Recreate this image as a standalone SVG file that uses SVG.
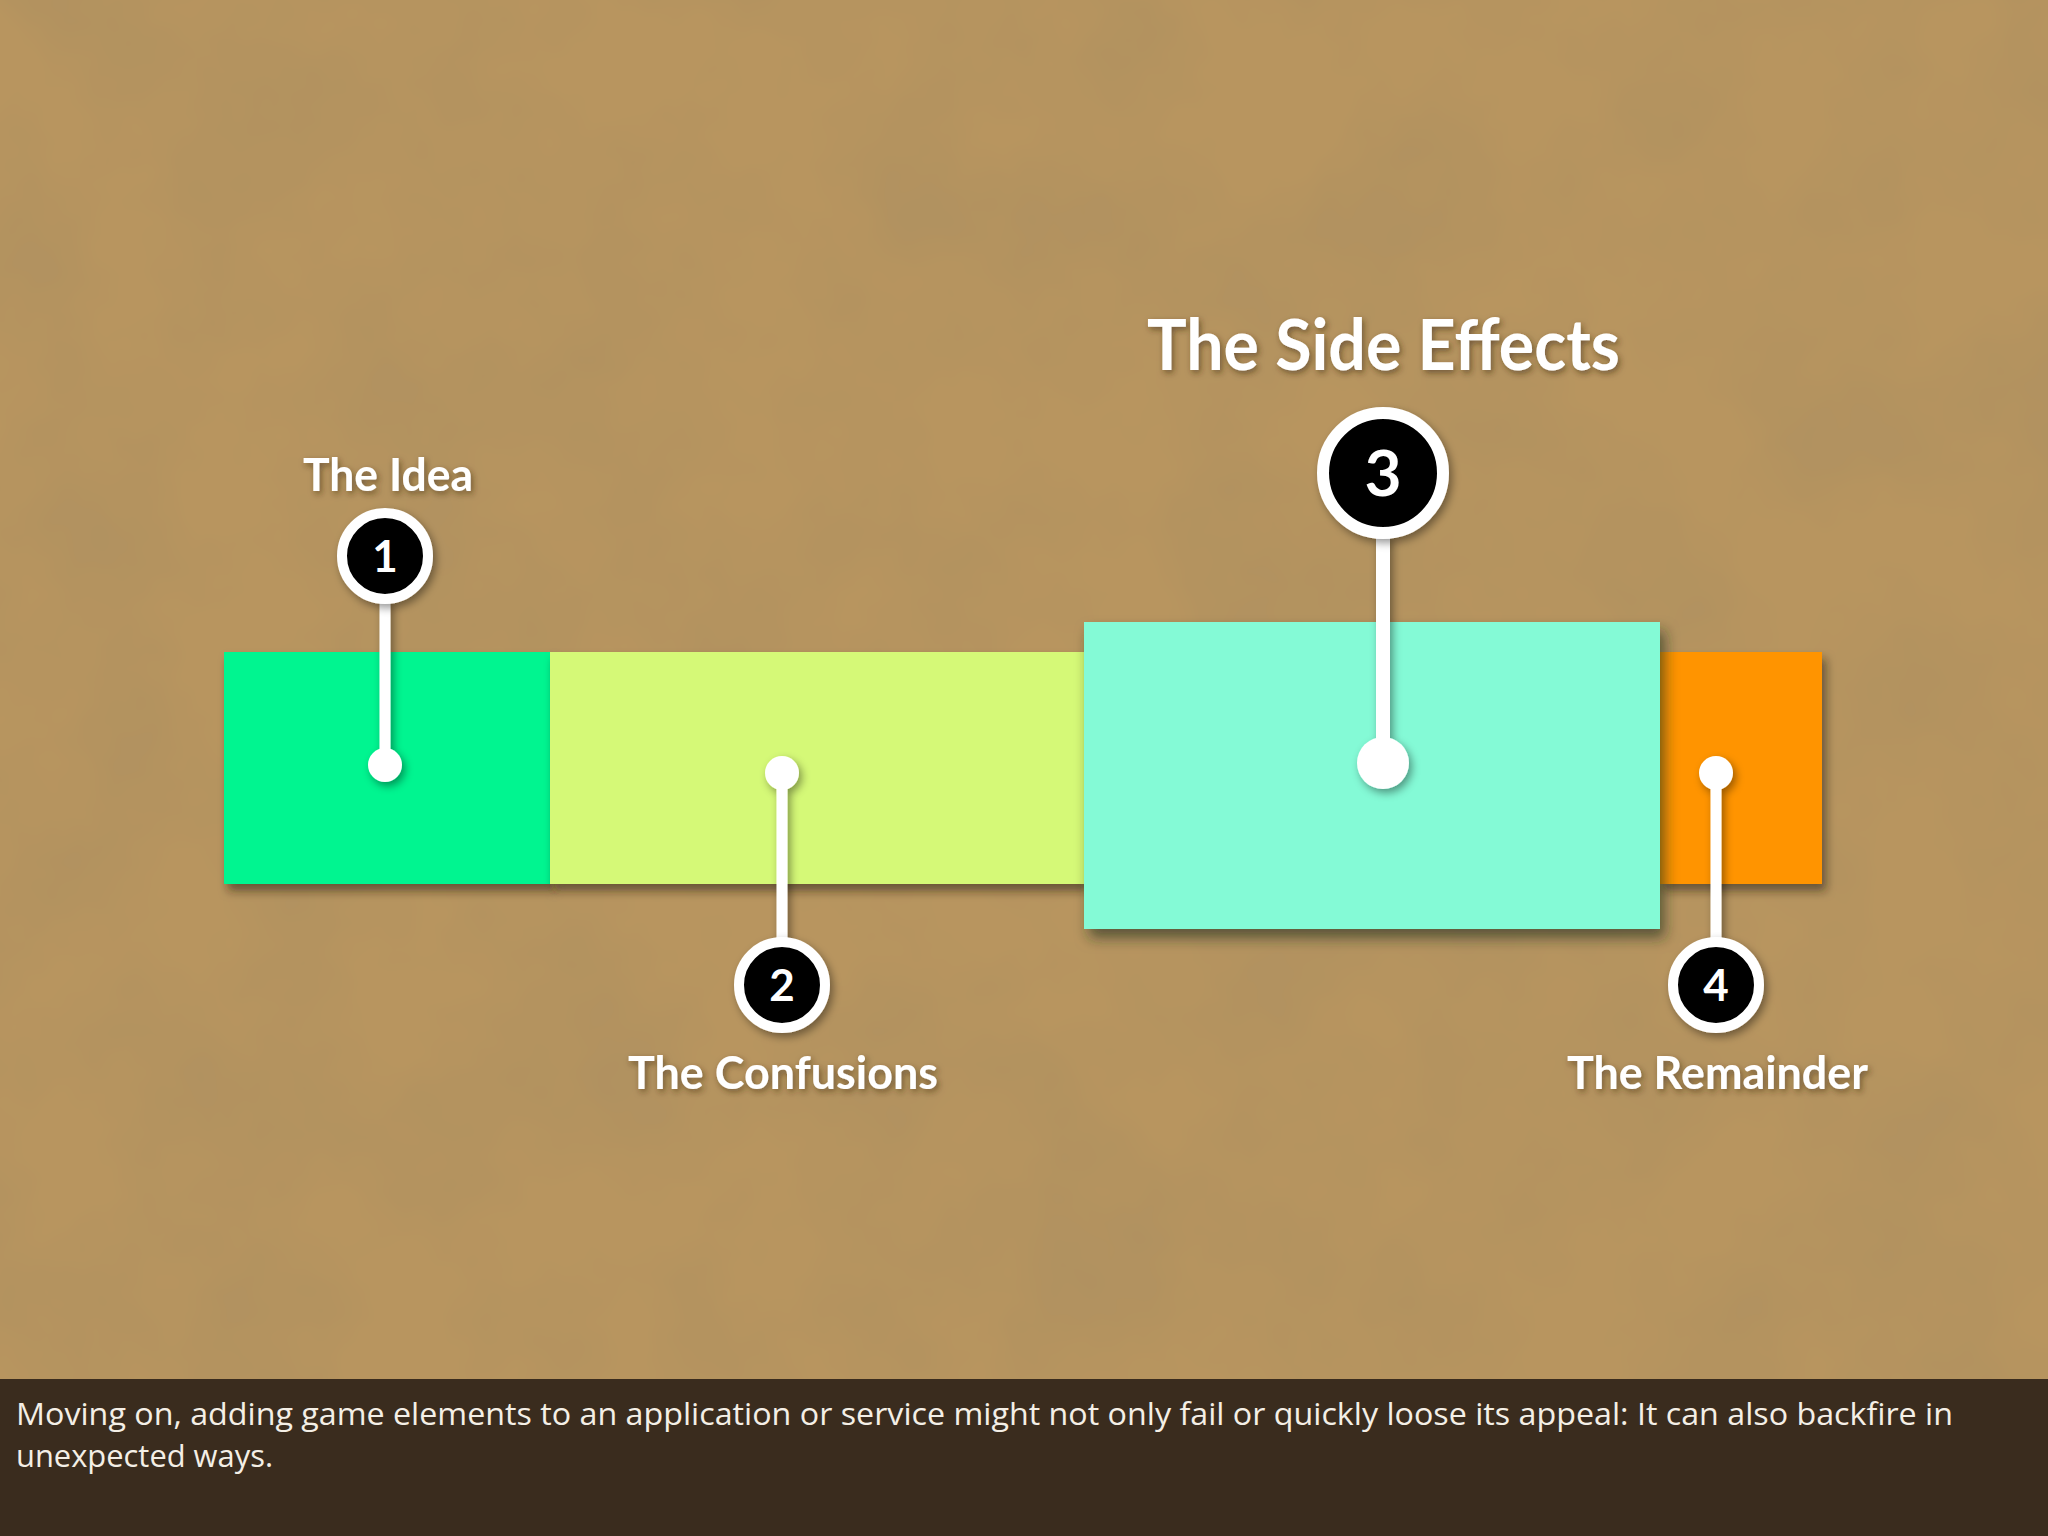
<svg xmlns="http://www.w3.org/2000/svg" width="2048" height="1536" viewBox="0 0 2048 1536">
  <defs>
    <filter id="paper" x="0" y="0" width="100%" height="100%">
      <feTurbulence type="fractalNoise" baseFrequency="0.006" numOctaves="4" seed="7" result="n"/>
      <feColorMatrix in="n" type="matrix" values="0 0 0 0 0.35  0 0 0 0 0.25  0 0 0 0 0.12  0 0 0 0.55 -0.18"/>
    </filter>
    <filter id="shadow" x="-10%" y="-10%" width="130%" height="140%">
      <feDropShadow dx="4" dy="7" stdDeviation="5" flood-color="#2a1c0a" flood-opacity="0.55"/>
    </filter>
    <filter id="shadowBig" x="-10%" y="-10%" width="130%" height="140%">
      <feDropShadow dx="5" dy="9" stdDeviation="7" flood-color="#1f2a1a" flood-opacity="0.6"/>
    </filter>
    <filter id="pinShadow" x="-50%" y="-50%" width="200%" height="200%">
      <feDropShadow dx="3" dy="4" stdDeviation="4" flood-color="#000" flood-opacity="0.4"/>
    </filter>
    <filter id="textShadow" x="-10%" y="-30%" width="120%" height="160%">
      <feDropShadow dx="2" dy="3" stdDeviation="3" flood-color="#3a2810" flood-opacity="0.55"/>
    </filter>
  </defs>
  <style>
    .label { font-family: "Lato", "Open Sans", "Liberation Sans", sans-serif; font-weight: bold; fill: #ffffff; }
    .num { font-family: "Lato", "Open Sans", "Liberation Sans", sans-serif; font-weight: bold; fill: #ffffff; text-anchor: middle; }
    .ring { fill: #000000; stroke: #ffffff; }
    .stem { stroke: #ffffff; stroke-linecap: butt; }
    .dot { fill: #ffffff; }
    .caption { font-family: "Open Sans", "Liberation Sans", sans-serif; font-size: 31px; fill: #f4efe6; }
  </style>

  <!-- background -->
  <rect x="0" y="0" width="2048" height="1536" fill="#b8955f"/>
  <rect x="0" y="0" width="2048" height="1536" filter="url(#paper)"/>

  <!-- bars -->
  <g id="bar-idea" filter="url(#shadow)">
    <rect x="224" y="652" width="327" height="232" fill="#00f590"/>
  </g>
  <g id="bar-confusions" filter="url(#shadow)">
    <rect x="550" y="652" width="534" height="232" fill="#d5f977"/>
  </g>
  <g id="bar-remainder" filter="url(#shadow)">
    <rect x="1659" y="652" width="163" height="232" fill="#ff9406"/>
  </g>
  <g id="bar-side-effects" filter="url(#shadowBig)">
    <rect x="1084" y="622" width="576" height="307" fill="#84fad6"/>
  </g>

  <!-- connectors (pins) -->
  <g id="connectors" filter="url(#pinShadow)">
    <line class="stem" x1="385" y1="600" x2="385" y2="765" stroke-width="11"/>
    <circle class="dot" cx="385" cy="765" r="17"/>
    <line class="stem" x1="782" y1="773" x2="782" y2="940" stroke-width="11"/>
    <circle class="dot" cx="782" cy="773" r="17"/>
    <line class="stem" x1="1383" y1="535" x2="1383" y2="763" stroke-width="14"/>
    <circle class="dot" cx="1383" cy="763" r="26"/>
    <line class="stem" x1="1716" y1="773" x2="1716" y2="940" stroke-width="11"/>
    <circle class="dot" cx="1716" cy="773" r="17"/>
  </g>

  <!-- node 1 -->
  <g id="node-1">
    <text class="label" x="303" y="491" font-size="46" textLength="170" lengthAdjust="spacingAndGlyphs" filter="url(#textShadow)">The Idea</text>
    <circle class="ring" cx="385" cy="556" r="43" stroke-width="10" filter="url(#pinShadow)"/>
    <text class="num" x="385" y="572" font-size="44">1</text>
  </g>

  <!-- node 2 -->
  <g id="node-2">
    <circle class="ring" cx="782" cy="985" r="43" stroke-width="10" filter="url(#pinShadow)"/>
    <text class="num" x="782" y="1001" font-size="44">2</text>
    <text class="label" x="628" y="1089" font-size="46" textLength="310" lengthAdjust="spacingAndGlyphs" filter="url(#textShadow)">The Confusions</text>
  </g>

  <!-- node 3 -->
  <g id="node-3">
    <text class="label" x="1147" y="370" font-size="70" textLength="473" lengthAdjust="spacingAndGlyphs" filter="url(#textShadow)">The Side Effects</text>
    <circle class="ring" cx="1383" cy="473" r="60" stroke-width="12" filter="url(#pinShadow)"/>
    <text class="num" x="1383" y="496" font-size="64">3</text>
  </g>

  <!-- node 4 -->
  <g id="node-4">
    <circle class="ring" cx="1716" cy="985" r="43" stroke-width="10" filter="url(#pinShadow)"/>
    <text class="num" x="1716" y="1001" font-size="44">4</text>
    <text class="label" x="1567" y="1089" font-size="46" textLength="301" lengthAdjust="spacingAndGlyphs" filter="url(#textShadow)">The Remainder</text>
  </g>

  <!-- caption bar -->
  <rect x="0" y="1379" width="2048" height="157" fill="#3a2c1e"/>
  <text class="caption" x="16" y="1425" textLength="1937" lengthAdjust="spacingAndGlyphs">Moving on, adding game elements to an application or service might not only fail or quickly loose its appeal: It can also backfire in</text>
  <text class="caption" x="16" y="1467" textLength="257" lengthAdjust="spacingAndGlyphs">unexpected ways.</text>
</svg>
